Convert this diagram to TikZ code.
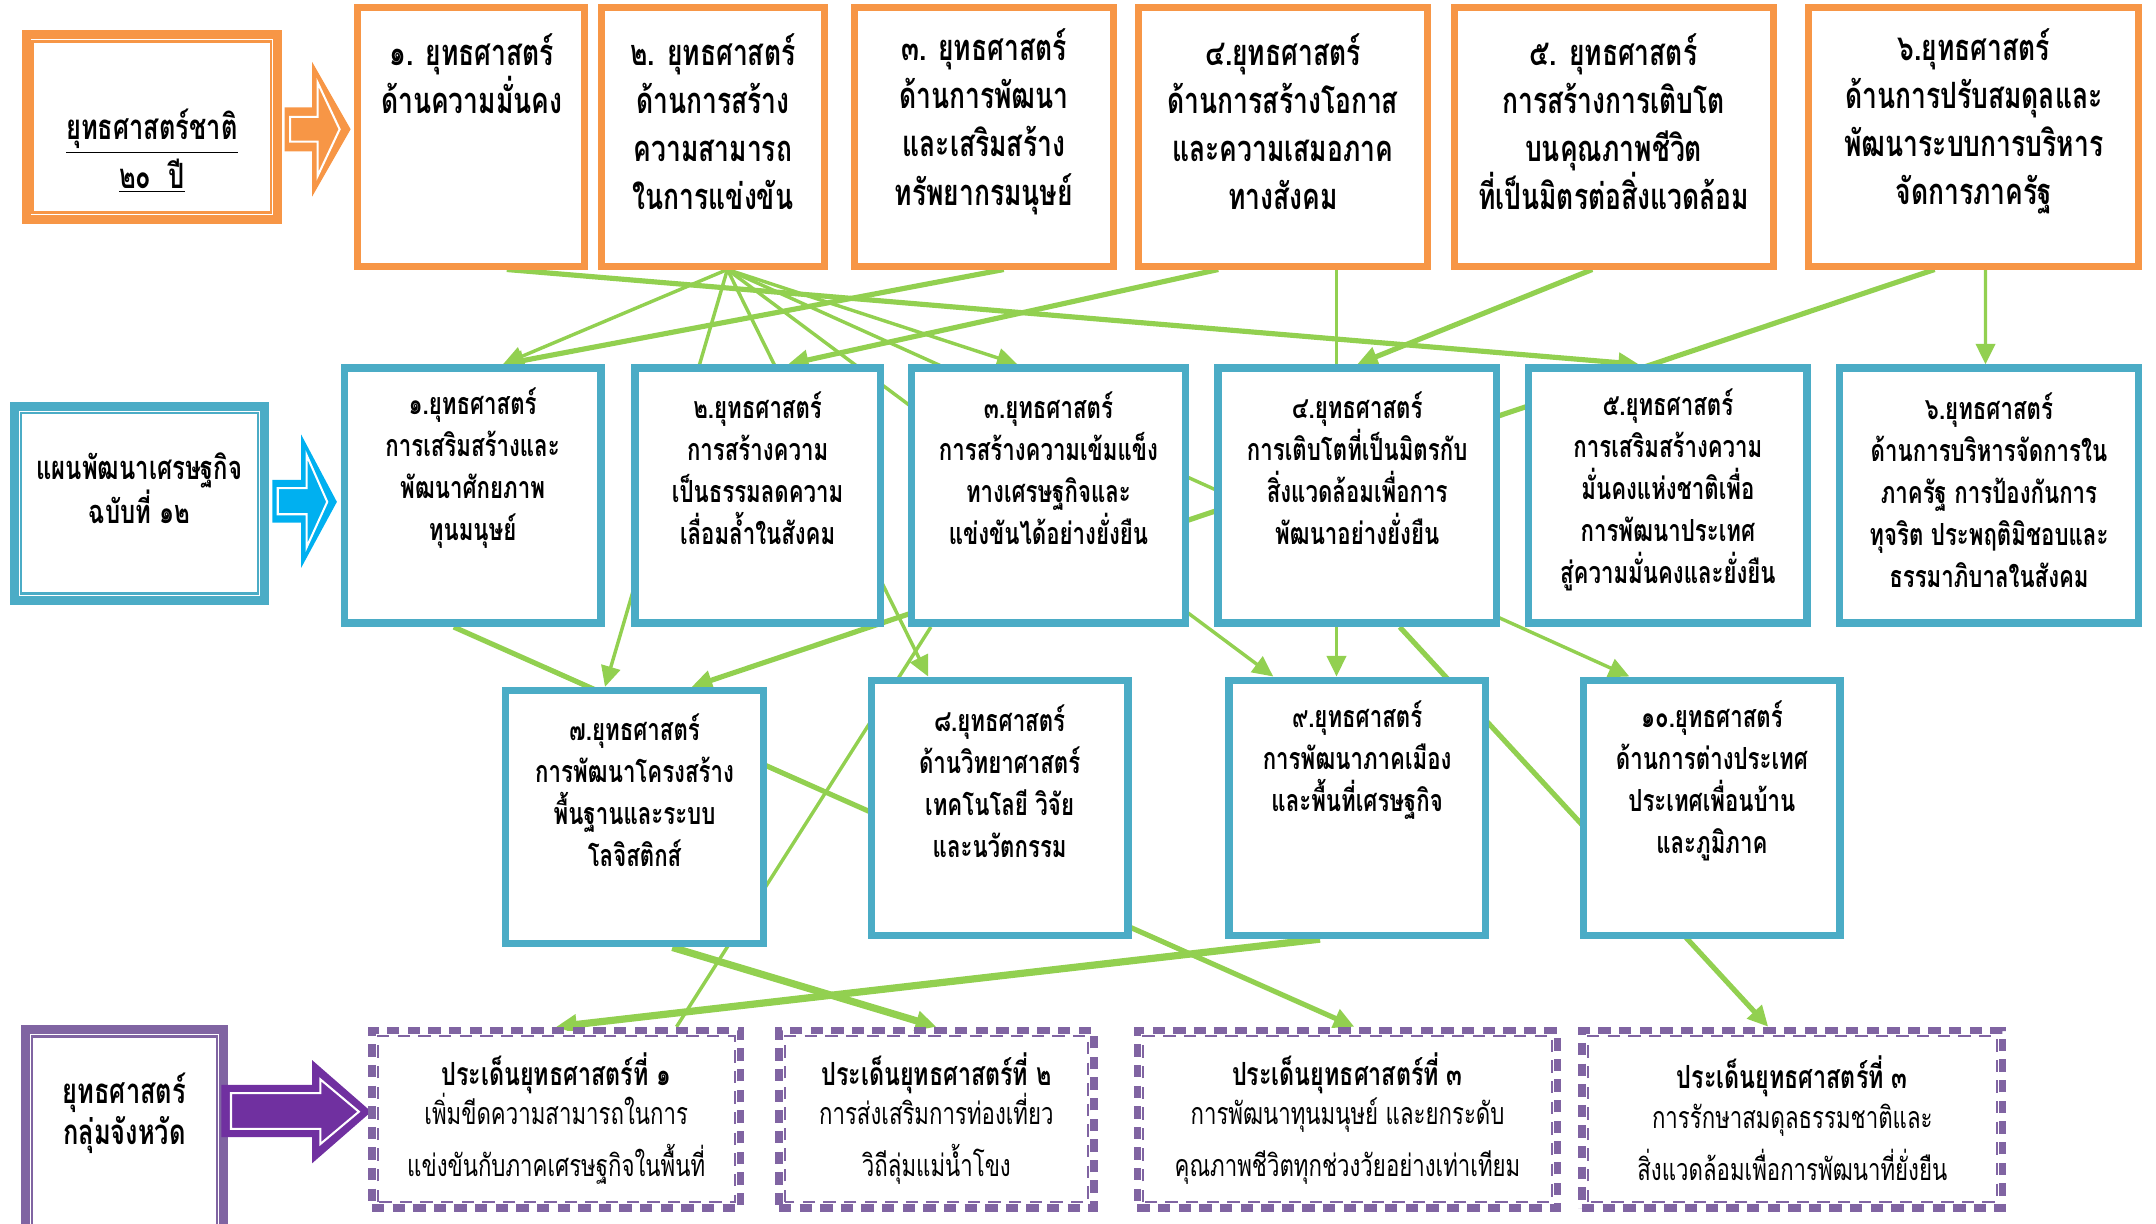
\documentclass[tikz,border=0pt]{standalone}
\usepackage{fontspec}
\usepackage{tikz}
\usetikzlibrary{arrows.meta}
\usetikzlibrary{calc}
\usetikzlibrary{backgrounds}

\newfontfamily\thai[Script=Thai,FakeStretch=0.73]{Loma}

\definecolor{ocolor}{HTML}{F79646}
\definecolor{bcolor}{HTML}{4BACC6}
\definecolor{acolor}{HTML}{00B0F0}
\definecolor{pcolor}{HTML}{8064A2}
\definecolor{parrow}{HTML}{7030A0}
\definecolor{gcolor}{HTML}{92D050}

\begin{document}
\begin{tikzpicture}[x=0.2mm, y=-0.2mm, >={Triangle[length=3mm,width=2.8mm]},
	every node/.style={inner sep=0pt, font=\thai},
	obox/.style={draw=ocolor, line width=1mm, fill=white},
	bbox/.style={draw=bcolor, line width=1.1mm, fill=white},
	pbox/.style={draw=pcolor, line width=1.1mm, dash pattern=on 1.8mm off 1.2mm, fill=white},
	otext/.style={align=center, font=\thai\bfseries\fontsize{15}{19.9}\selectfont},
	btext/.style={align=center, font=\thai\bfseries\fontsize{12.6}{17.4}\selectfont},
	ptext/.style={align=center, font=\thai\fontsize{12.6}{19.5}\selectfont},
	link/.style={draw=gcolor, line width=0.75mm},
	thinlink/.style={draw=gcolor, line width=0.5mm},
	boldlink/.style={draw=gcolor, line width=1.05mm}]
	\useasboundingbox (0,0) rectangle (1568,890);
	%National strategy
	\node [draw=ocolor, line width=1.3mm, fill=white, minimum width=36.6mm, minimum height=26.8mm] (A) at (110.5,92.4) {};
	\draw [ocolor, line width=0.35mm] ($(A.south west)+(8,-8)$) rectangle ($(A.north east)+(-8,8)$);
	\node [otext, font=\thai\bfseries\fontsize{14.4}{20}\selectfont] (At) at (110.5,110) {\underline{ยุทธศาสตร์ชาติ}\\\underline{๒๐~~ปี}};
	\node [obox, minimum width=33mm, minimum height=37.6mm] (o1) at (342.6,99.5) {};
	\node [obox, minimum width=32.4mm, minimum height=37.6mm] (o2) at (518.5,99.5) {};
	\node [obox, minimum width=37.6mm, minimum height=37.6mm] (o3) at (715.5,99.5) {};
	\node [obox, minimum width=42.1mm, minimum height=37.6mm] (o4) at (933,99.5) {};
	\node [obox, minimum width=46.4mm, minimum height=37.6mm] (o5) at (1173.5,99.5) {};
	\node [obox, minimum width=48mm, minimum height=37.6mm] (o6) at (1435.5,99.5) {};
	\node [otext] (o1t) at (343,53.75) {๑. ยุทธศาสตร์\\ด้านความมั่นคง};
	\node [otext] (o2t) at (518.5,88.5) {๒. ยุทธศาสตร์\\ด้านการสร้าง\\ความสามารถ\\ในการแข่งขัน};
	\node [otext] (o3t) at (715.5,88.5) {๓. ยุทธศาสตร์\\ด้านการพัฒนา\\และเสริมสร้าง\\ทรัพยากรมนุษย์};
	\node [otext] (o4t) at (933,88.5) {๔.ยุทธศาสตร์\\ด้านการสร้างโอกาส\\และความเสมอภาค\\ทางสังคม};
	\node [otext] (o5t) at (1173.5,88.5) {๕. ยุทธศาสตร์\\การสร้างการเติบโต\\บนคุณภาพชีวิต\\ที่เป็นมิตรต่อสิ่งแวดล้อม};
	\node [otext] (o6t) at (1435.5,88.5) {๖.ยุทธศาสตร์\\ด้านการปรับสมดุลและ\\พัฒนาระบบการบริหาร\\จัดการภาครัฐ};
	\fill [ocolor] (207,78) -- (227,78) -- (227,45) -- (255,94) -- (227,143) -- (227,110) -- (207,110) -- cycle;
	\draw [white, line width=0.3mm] (211,85) -- (231,85) -- (231,60) -- (247,94) -- (231,128) -- (231,103) -- (211,103) -- cycle;
	%Economic plan
	\node [draw=bcolor, line width=1.3mm, fill=white, minimum width=36.4mm, minimum height=28.2mm] (B) at (101.4,366) {};
	\draw [bcolor, line width=0.35mm] ($(B.south west)+(8,-8)$) rectangle ($(B.north east)+(-8,8)$);
	\node [otext, font=\thai\bfseries\fontsize{13.5}{18}\selectfont] (Bt) at (101.4,355) {แผนพัฒนาเศรษฐกิจ\\ฉบับที่ ๑๒};
	\fill [acolor] (198,349) -- (219,349) -- (219,316) -- (245,365) -- (219,413) -- (219,380) -- (198,380) -- cycle;
	\draw [white, line width=0.3mm] (202,355) -- (223,355) -- (223,331) -- (238,365) -- (223,398) -- (223,374) -- (202,374) -- cycle;
	\node [bbox, minimum width=37.3mm, minimum height=37.1mm] (b1) at (343.7,360.5) {};
	\node [bbox, minimum width=35.7mm, minimum height=37.1mm] (b2) at (551,360.5) {};
	\node [bbox, minimum width=39.9mm, minimum height=37.1mm] (b3) at (762.5,360.5) {};
	\node [bbox, minimum width=40.5mm, minimum height=37.1mm] (b4) at (987,360.5) {};
	\node [bbox, minimum width=40.5mm, minimum height=37.1mm] (b5) at (1213,360.5) {};
	\node [bbox, minimum width=43.5mm, minimum height=37.1mm] (b6) at (1446.5,360.5) {};
	\node [btext] (b1t) at (343.7,340.6) {๑.ยุทธศาสตร์\\การเสริมสร้างและ\\พัฒนาศักยภาพ\\ทุนมนุษย์};
	\node [btext] (b2t) at (551,340.6) {๒.ยุทธศาสตร์\\การสร้างความ\\เป็นธรรมลดความ\\เลื่อมล้ำในสังคม};
	\node [btext] (b3t) at (762.5,340.6) {๓.ยุทธศาสตร์\\การสร้างความเข้มแข็ง\\ทางเศรษฐกิจและ\\แข่งขันได้อย่างยั่งยืน};
	\node [btext] (b4t) at (987,340.6) {๔.ยุทธศาสตร์\\การเติบโตที่เป็นมิตรกับ\\สิ่งแวดล้อมเพื่อการ\\พัฒนาอย่างยั่งยืน};
	\node [btext] (b5t) at (1213,356.4) {๕.ยุทธศาสตร์\\การเสริมสร้างความ\\มั่นคงแห่งชาติเพื่อ\\การพัฒนาประเทศ\\สู่ความมั่นคงและยั่งยืน};
	\node [btext] (b6t) at (1446.5,356.4) {๖.ยุทธศาสตร์\\ด้านการบริหารจัดการใน\\ภาครัฐ การป้องกันการ\\ทุจริต ประพฤติมิชอบและ\\ธรรมาภิบาลในสังคม};
	\node [bbox, minimum width=37.5mm, minimum height=36.8mm] (b7) at (461.5,594.3) {};
	\node [bbox, minimum width=37.3mm, minimum height=37.1mm] (b8) at (727,587.5) {};
	\node [bbox, minimum width=37.3mm, minimum height=37.1mm] (b9) at (987,587.5) {};
	\node [bbox, minimum width=37.3mm, minimum height=37.1mm] (b10) at (1245,587.5) {};
	\node [btext] (b7t) at (461.5,574.6) {๗.ยุทธศาสตร์\\การพัฒนาโครงสร้าง\\พื้นฐานและระบบ\\โลจิสติกส์};
	\node [btext] (b8t) at (727,567.9) {๘.ยุทธศาสตร์\\ด้านวิทยาศาสตร์\\เทคโนโลยี วิจัย\\และนวัตกรรม};
	\node [btext] (b9t) at (987,552.7) {๙.ยุทธศาสตร์\\การพัฒนาภาคเมือง\\และพื้นที่เศรษฐกิจ};
	\node [btext] (b10t) at (1245,567.9) {๑๐.ยุทธศาสตร์\\ด้านการต่างประเทศ\\ประเทศเพื่อนบ้าน\\และภูมิภาค};
	%Provincial group
	\node [draw=pcolor, line width=1.3mm, fill=white, minimum width=28.8mm, minimum height=29.5mm] (C) at (90.5,822.75) {};
	\draw [pcolor, line width=0.35mm] ($(C.south west)+(8,-8)$) rectangle ($(C.north east)+(-8,8)$);
	\node [otext, font=\thai\bfseries\fontsize{14.4}{17}\selectfont] (Ct) at (90.5,809.5) {ยุทธศาสตร์\\กลุ่มจังหวัด};
	\fill [parrow] (161,789) -- (227,789) -- (227,771) -- (270,808.5) -- (227,846) -- (227,827) -- (161,827) -- cycle;
	\draw [white, line width=0.3mm] (168,795) -- (233,795) -- (233,785) -- (261,808.5) -- (233,832) -- (233,821) -- (168,821) -- cycle;
	\node [pbox, minimum width=53.6mm, minimum height=25.8mm] (p1) at (404.5,814) {};
	\node [pbox, minimum width=45.8mm, minimum height=25.8mm] (p2) at (681,814) {};
	\node [pbox, minimum width=61.1mm, minimum height=25.8mm] (p3) at (980,814) {};
	\node [pbox, minimum width=61.2mm, minimum height=25.8mm] (p4) at (1303.5,814) {};
	\foreach \p in {p1,p2,p3,p4}
		\draw [pcolor, line width=0.3mm, dash pattern=on 1.8mm off 1.2mm] ($(\p.south west)+(7,-7)$) rectangle ($(\p.north east)+(-7,7)$);
	\node [ptext] (p1t) at (404.5,813.5) {{\bfseries\fontsize{13.2}{19.5}\selectfont ประเด็นยุทธศาสตร์ที่ ๑}\\[-3pt]เพิ่มขีดความสามารถในการ\\[2pt]แข่งขันกับภาคเศรษฐกิจในพื้นที่};
	\node [ptext] (p2t) at (681,813.5) {{\bfseries\fontsize{13.2}{19.5}\selectfont ประเด็นยุทธศาสตร์ที่ ๒}\\[-3pt]การส่งเสริมการท่องเที่ยว\\[2pt]วิถีลุ่มแม่น้ำโขง};
	\node [ptext] (p3t) at (980,813.5) {{\bfseries\fontsize{13.2}{19.5}\selectfont ประเด็นยุทธศาสตร์ที่ ๓}\\[-3pt]การพัฒนาทุนมนุษย์ และยกระดับ\\[2pt]คุณภาพชีวิตทุกช่วงวัยอย่างเท่าเทียม};
	\node [ptext] (p4t) at (1303.5,813.5) {{\bfseries\fontsize{13.2}{19.5}\selectfont ประเด็นยุทธศาสตร์ที่ ๓}\\[-3pt]การรักษาสมดุลธรรมชาติและ\\[2pt]สิ่งแวดล้อมเพื่อการพัฒนาที่ยั่งยืน};
	%Links
	\begin{scope}[on background layer]
		\draw [link,->] ($(o1.south)+(26,0)$) -- ($(b5.north)+(-21,0)$);
		\draw [thinlink,->] ($(o2.south)+(10.5,0)$) -- ($(b1.north)+(22,0)$);
		\draw [thinlink,->] ($(o2.south)+(10.5,0)$) -- ($(b7.north)+(-21.5,0)$);
		\draw [thinlink,->] ($(o2.south)+(10.5,0)$) -- ($(b8.north)+(-52,0)$);
		\draw [thinlink,->] ($(o2.south)+(10.5,0)$) -- ($(b3.north)+(-22.5,0)$);
		\draw [thinlink,->] ($(o2.south)+(10.5,0)$) -- ($(b9.north)+(-61,0)$);
		\draw [thinlink,->] ($(o2.south)+(10.5,0)$) -- ($(b10.north)+(-60,0)$);
		\draw [link,->] ($(o3.south)+(14.5,0)$) -- ($(b1.north)+(22,0)$);
		\draw [link,->] ($(o4.south)+(-47,0)$) -- ($(b2.north)+(22,0)$);
		\draw [thinlink,->] ($(o4.south)+(39,0)$) -- ($(b9.north)+(-15,0)$);
		\draw [link,->] ($(o5.south)+(-15.5,0)$) -- (b4.north);
		\draw [link,->] ($(o6.south)+(-28.5,0)$) -- ($(b7.north)+(41.5,0)$);
		\draw [thinlink,->] ($(o6.south)+(8.5,0)$) -- ($(b6.north)+(-2.5,0)$);
		\draw [link,->] ($(b1.south)+(-13.7,0)$) -- ($(p3.north)+(5,0)$);
		\draw [thinlink] ($(b3.south)+(-85.5,0)$) -- ($(p1.north)+(87.5,0)$);
		\draw [link,->] ($(b4.south)+(31,0)$) -- ($(p4.north)+(-17.5,0)$);
		\draw [boldlink,->] ($(b7.south)+(27.5,0)$) -- (p2.north);
		\draw [boldlink,->] ($(b9.south)+(-27,0)$) -- (p1.north);
	\end{scope}
\end{tikzpicture}
\end{document}
